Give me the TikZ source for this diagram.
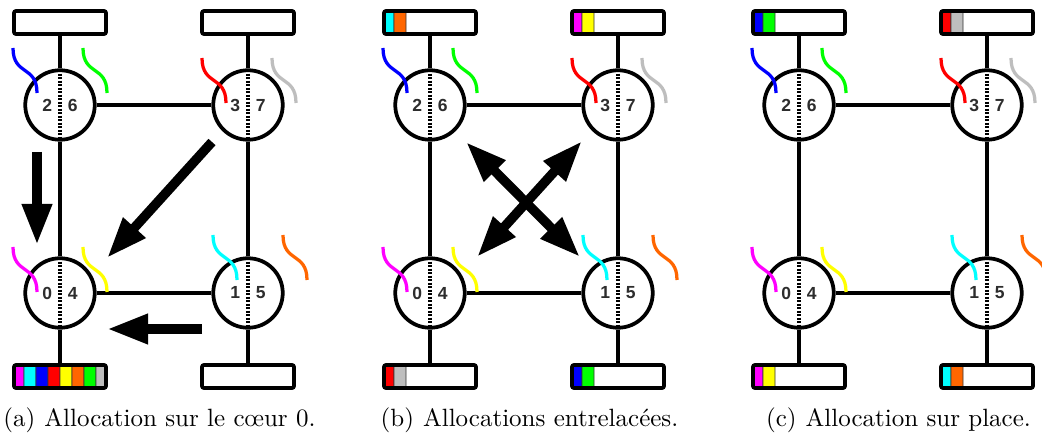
\documentclass[tikz,border=0pt]{standalone}
\usepackage{fontspec}
\newfontfamily\digitfont{Liberation Sans}
\usetikzlibrary{arrows.meta}
\definecolor{thmagenta}{RGB}{255,0,255}
\definecolor{thcyan}{RGB}{0,255,255}
\definecolor{thblue}{RGB}{0,0,255}
\definecolor{thred}{RGB}{255,0,0}
\definecolor{thyellow}{RGB}{255,255,0}
\definecolor{thorange}{RGB}{255,102,0}
\definecolor{thgreen}{RGB}{0,255,0}
\definecolor{thgray}{RGB}{190,190,190}
\definecolor{digit}{RGB}{45,45,45}
\tikzset{link/.style={line width=1.5pt},
    core/.style={circle, draw, fill=white, line width=1.5pt, minimum size=27.8pt, inner sep=0pt,
        font=\digitfont\bfseries\fontsize{7}{8}\selectfont, text=digit,
        path picture={\draw[black, line width=1.3pt, dash pattern=on 0.8pt off 0.6pt]
            (path picture bounding box.north) -- (path picture bounding box.south);}},
    mem/.style={draw, fill=white, line width=1.5pt, rounded corners=0.8pt,
        minimum width=36.8pt, minimum height=9.2pt, inner sep=0pt,
        path picture={\foreach \c [count=\i from 0] in #1
            {\filldraw[fill=\c, draw=black!80, line width=0.3pt]
                ([xshift=\i*4.8pt-0.8pt, yshift=-2pt]path picture bounding box.south west) rectangle ++(4.8pt,14pt);}}},
    thread/.style={line width=1.3pt},
    bigarrow/.style={line width=3.8pt, -{Triangle[length=16.4pt,width=11.2pt]}},
    bigarrows/.style={line width=3.8pt, {Triangle[length=16.4pt,width=11.2pt]}-{Triangle[length=16.4pt,width=11.2pt]}}
}
\begin{document}
\begin{tikzpicture}[x=0.4pt,y=0.4pt]
    \useasboundingbox (0,0) rectangle (1042,434);
    \clip (0,0) rectangle (1042,434);
    \foreach \p/\dx/\mzero/\mone/\mtwo/\mthree/\txt in {
        a/0/{thmagenta,thcyan,thblue,thred,thyellow,thorange,thgreen,thgray}/{}/{}/{}/{Allocation sur le cœur 0.},
        b/370/{thred,thgray}/{thblue,thgreen}/{thcyan,thorange}/{thmagenta,thyellow}/{Allocations entrelacées.},
        c/739/{thmagenta,thyellow}/{thcyan,thorange}/{thblue,thgreen}/{thred,thgray}/{Allocation sur place.}}
    {
    \begin{scope}[shift={(\dx,0)}]
        % cores
        \node[core] (\p-core0) at (60,141) {0\hspace{6.3pt}4};
        \node[core] (\p-core1) at (248,141) {1\hspace{6.3pt}5};
        \node[core] (\p-core2) at (60,329) {2\hspace{6.3pt}6};
        \node[core] (\p-core3) at (248,329) {3\hspace{6.3pt}7};
        % memory banks
        \node[mem=\mzero] (\p-mem0) at (60,57.5) {};
        \node[mem=\mone] (\p-mem1) at (248,57.5) {};
        \node[mem=\mtwo] (\p-mem2) at (60,411.5) {};
        \node[mem=\mthree] (\p-mem3) at (248,411.5) {};
        \draw[link] (\p-core0) -- (\p-core1) (\p-core2) -- (\p-core3)
            (\p-core0) -- (\p-core2) (\p-core1) -- (\p-core3);
        \foreach \n in {0,...,3}
        {\draw[link] (\p-core\n) -- (\p-mem\n);}
        % threads
        \foreach \n/\col/\sx/\sy in {0/thmagenta/-47/46, 0/thyellow/23/46, 1/thcyan/-35/58, 1/thorange/35/58,
            2/thblue/-47/57, 2/thgreen/23/57, 3/thred/-46/47, 3/thgray/24/47}
        {\draw[thread, \col] ([shift={(\sx,\sy)}]\p-core\n.center) .. controls +(0,-28) and +(0,28) .. ++(24,-45);}
        \node[anchor=base] (\p-caption) at (159.5,7) {(\p)\hspace{3.6pt}\txt};
    \end{scope}
    }
    % migrations
    \draw[bigarrow] ([shift={(-23,-47)}]a-core2.center) -- ([shift={(-23,-140)}]a-core2.center);
    \draw[bigarrow] ([shift={(-36,-37)}]a-core3.center) -- ([shift={(47,35)}]a-core0.center);
    \draw[bigarrow] ([shift={(-46,-36)}]a-core1.center) -- ([shift={(47,-36)}]a-core0.center);
    \draw[bigarrows] ([shift={(36,-37)}]b-core2.center) -- ([shift={(-38,36)}]b-core1.center);
    \draw[bigarrows] ([shift={(-36,-36)}]b-core3.center) -- ([shift={(47,36)}]b-core0.center);
\end{tikzpicture}
\end{document}
